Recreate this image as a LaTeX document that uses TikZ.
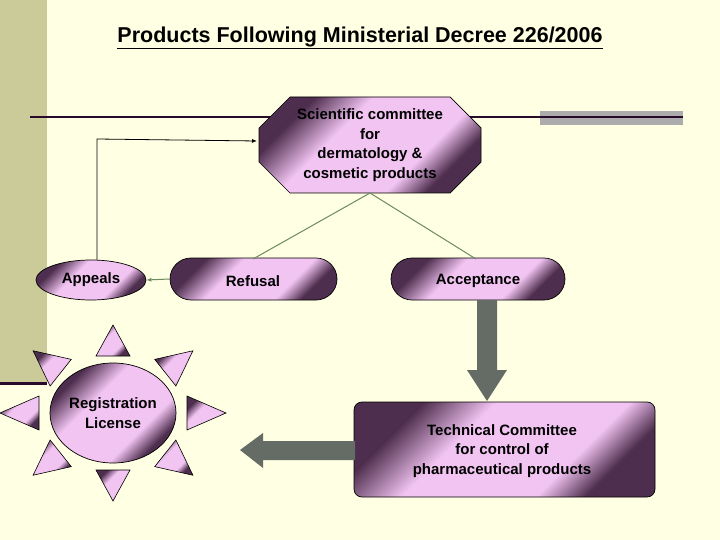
\documentclass[tikz,border=0pt]{standalone}
\usepackage{fontspec}
\setmainfont{Liberation Sans}
\usetikzlibrary{shapes.geometric,shapes.misc,calc,arrows.meta}
\definecolor{bg}{HTML}{FFFFE3}
\definecolor{band}{HTML}{CBCB99}
\definecolor{darkp}{HTML}{2A0A2A}
\definecolor{pinkc}{HTML}{F2C4F2}
\definecolor{deepc}{HTML}{4E2E4E}
\definecolor{greenl}{HTML}{6E8A5E}
\definecolor{grayarr}{HTML}{656B65}
\pgfdeclarehorizontalshading{pinkshade}{100bp}{color(0bp)=(deepc); color(27bp)=(deepc); color(40bp)=(pinkc); color(64bp)=(pinkc); color(73bp)=(deepc); color(100bp)=(deepc)}
\tikzset{
  shadebox/.style={draw=black,line width=0.7pt,shading=pinkshade,shading angle=-45},
  lbl/.style={font=\fontsize{15}{19.5}\selectfont\bfseries,align=center,text=black},
  green line/.style={draw=greenl,line width=1pt},
}
\begin{document}
\begin{tikzpicture}[x=1pt,y=-1pt]
\fill[bg] (0,0) rectangle (720,540);
\useasboundingbox (0,0) rectangle (720,540);
\fill[band] (0,0) rectangle (47,383);
\draw[darkp,line width=3pt] (0,383) -- (47,383);
\node[font=\fontsize{21.5}{24}\selectfont\bfseries] (title) at (360,38) {\underline{Products Following Ministerial Decree 226/2006}};
\fill[gray!65] (540,111) rectangle (683,125);
\draw[darkp,line width=1.2pt] (30,117) -- (683,117);
% octagon
\shade[shadebox] (290,97) -- (450,97) -- (481,128) -- (481,162) -- (450,193) -- (290,193) -- (259,162) -- (259,128) -- cycle;
\node[lbl] (sci) at (370,145) {Scientific committee\\for\\dermatology \&\\cosmetic products};
\node[shadebox,ellipse,minimum width=110pt,minimum height=40pt,inner sep=0pt] (app) at (91,280) {};
\node[lbl] at (91,280) {Appeals};
\node[shadebox,rounded rectangle,minimum width=167pt,minimum height=42pt,inner sep=0pt] (ref) at (253.5,279) {};
\node[lbl] at (253,281) {Refusal};
\node[shadebox,rounded rectangle,minimum width=174pt,minimum height=42pt,inner sep=0pt] (acc) at (478,279) {};
\node[lbl] at (478,281) {Acceptance};
\node[shadebox,rounded corners=8pt,minimum width=301pt,minimum height=95pt,inner sep=0pt] (tech) at (504.5,449.5) {};
\node[lbl] at (502,451) {Technical Committee\\for control of\\pharmaceutical products};
% connectors
\draw[green line] (370,193) -- (253,259);
\draw[green line] (370,193) -- (476,259);
\draw[green line,-{Latex[length=5pt,width=4pt]}] (ref.west) -- (app.east);
\draw[black,line width=0.8pt,-{Latex[length=5pt,width=4pt]}] (97,260) -- (97,139) -- (257,141);
% gray arrows
\fill[grayarr] (477,300) -- (497,300) -- (497,370) -- (507,370) -- (487,401) -- (467,370) -- (477,370) -- cycle;
\fill[grayarr] (355,441) -- (263,441) -- (263,433) -- (240,450) -- (263,468) -- (263,460) -- (355,460) -- cycle;
% sun
\node[shadebox,ellipse,minimum width=126pt,minimum height=100pt,inner sep=0pt] (sun) at (113,413) {};
\node[lbl] at (113,413) {Registration\\License};
\foreach \a in {0,45,...,315}{
  \coordinate (B) at ({113+74*cos(\a)},{413-57*sin(\a)});
  \coordinate (T) at ({113+113*cos(\a)},{413-88*sin(\a)});
  \shade[shadebox,line width=0.6pt] ($(B)!17pt!90:(T)$) -- (T) -- ($(B)!17pt!-90:(T)$) -- cycle;
}
\end{tikzpicture}
\end{document}
